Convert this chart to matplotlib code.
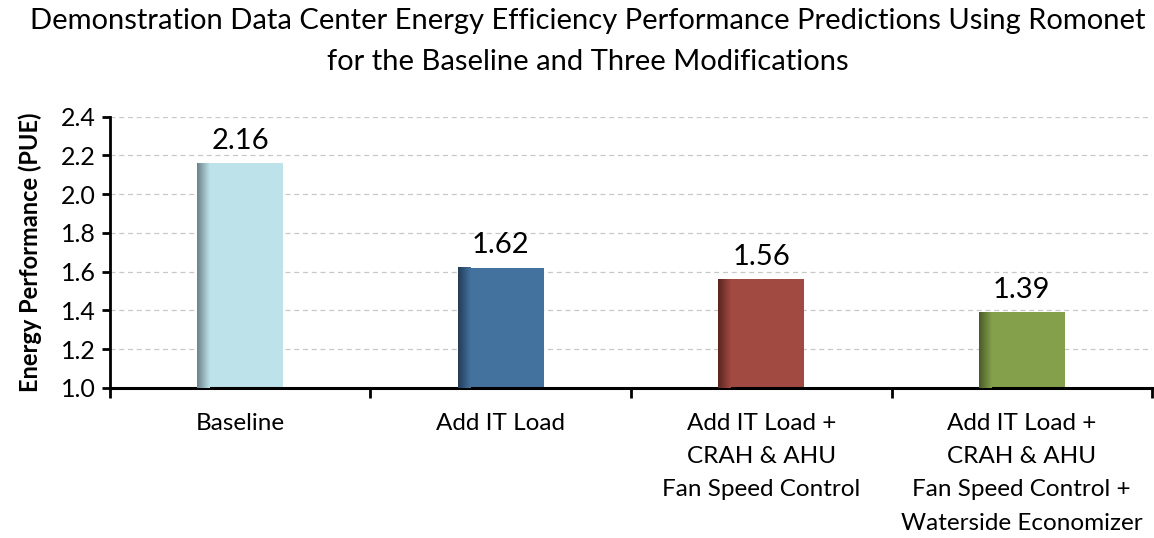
import numpy as np
import matplotlib

matplotlib.use("Agg")
import matplotlib.pyplot as plt
from matplotlib.colors import LinearSegmentedColormap

categories = [
    "Baseline",
    "Add IT Load",
    "Add IT Load +\nCRAH & AHU\nFan Speed Control",
    "Add IT Load +\nCRAH & AHU\nFan Speed Control +\nWaterside Economizer",
]
pue = [2.16, 1.62, 1.56, 1.39]
labels = ["2.16", "1.62", "1.56", "1.39"]
face_colors = ["#bee2ea", "#44729f", "#a14a42", "#84a04b"]
edge_colors = ["#6a8188", "#233c57", "#5a2420", "#4a5b28"]

plt.rcParams["font.family"] = ["Lato", "DejaVu Sans"]

fig = plt.figure(figsize=(11.54, 5.38), dpi=100)
ax = fig.add_axes([0.0953, 0.279, 0.903, 0.504])

x = np.arange(len(categories))
bars = ax.bar(x, pue, width=0.33, color=face_colors, zorder=2)

# darker shading on the left side of each bar
for bar, fc, ec in zip(bars, face_colors, edge_colors):
    cmap = LinearSegmentedColormap.from_list("shade", [ec, fc])
    x0 = bar.get_x()
    w = bar.get_width()
    grad = np.linspace(0, 1, 64).reshape(1, -1)
    ax.imshow(grad, cmap=cmap, aspect="auto", zorder=3,
              extent=(x0, x0 + w * 0.14, 1.0, bar.get_height()))

for xi, v, t in zip(x, pue, labels):
    ax.text(xi, v + 0.05, t, ha="center", va="bottom", fontsize=21)

ax.set_xlim(-0.5, len(categories) - 0.5)
ax.set_ylim(1.0, 2.4)
ax.set_yticks(np.arange(1.0, 2.41, 0.2))
ax.set_yticklabels([f"{v:.1f}" for v in np.arange(1.0, 2.41, 0.2)], fontsize=18)

ax.set_xticks(x)
ax.set_xticklabels(categories, fontsize=17.5, linespacing=1.72, va="top")
ax.set_xticks(np.arange(-0.5, len(categories)), minor=True)
ax.tick_params(axis="x", which="major", length=0, pad=18)
ax.tick_params(axis="x", which="minor", length=7, width=2, direction="out")
ax.tick_params(axis="y", length=6, width=2, direction="out", pad=4)

ax.set_ylabel("Energy Performance (PUE)", fontsize=17, fontweight="bold", labelpad=14)

ax.grid(axis="y", linestyle=(0, (4, 3)), color="#c8c8c8", linewidth=0.9, zorder=0)
for side in ["top", "right"]:
    ax.spines[side].set_visible(False)
ax.spines["left"].set_linewidth(2)
ax.spines["bottom"].set_linewidth(2.2)

fig.suptitle("Demonstration Data Center Energy Efficiency Performance Predictions Using Romonet\n"
             "for the Baseline and Three Modifications",
             x=0.509, y=0.985, fontsize=21, linespacing=1.72)

fig.savefig("out.png", dpi=100)
